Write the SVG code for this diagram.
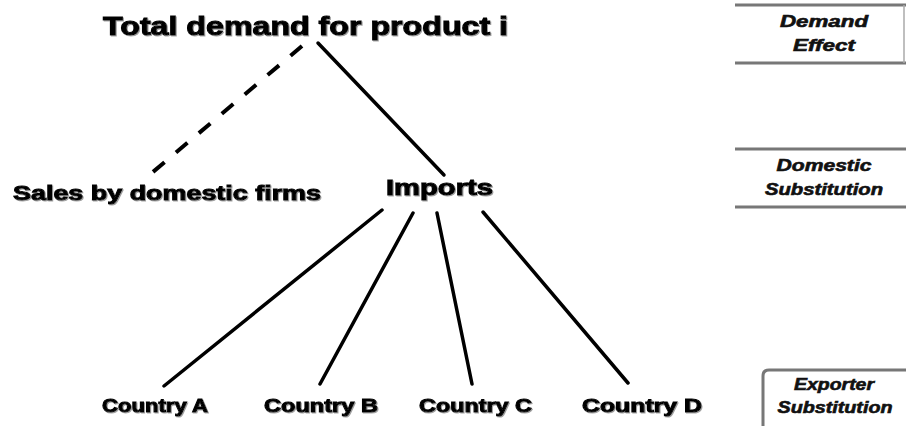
<svg xmlns="http://www.w3.org/2000/svg" width="906" height="426" viewBox="0 0 906 426">
  <defs>
    <filter id="sh" x="-5%" y="-20%" width="110%" height="140%">
      <feDropShadow dx="1" dy="1" stdDeviation="0.6" flood-color="#888" flood-opacity="0.8"/>
    </filter>
  </defs>
  <style>
    .t { font-family: "Liberation Sans", Arial, sans-serif; font-weight: bold; fill: #000; stroke: #000; stroke-width: 1; filter: url(#sh); }
    .lab { font-family: "Liberation Sans", Arial, sans-serif; font-weight: bold; font-style: italic; fill: #111; stroke: #111; stroke-width: 0.6; font-size: 16px; text-anchor: middle; }
    .edge { stroke: #000; stroke-width: 3.5; stroke-linecap: round; fill: none; }
    .dash { stroke: #000; stroke-width: 4; stroke-dasharray: 15 15; fill: none; }
    .bline { stroke: #777; stroke-width: 3; fill: none; }
    .bside { stroke: #aaa; stroke-width: 1.5; fill: none; }
  </style>
  <rect width="906" height="426" fill="#fff"/>

  <g id="connectors">
    <line class="dash" x1="302" y1="46" x2="147" y2="177"/>
    <line class="edge" x1="318" y1="43" x2="444" y2="175"/>
    <line class="edge" x1="382" y1="210" x2="164" y2="386"/>
    <line class="edge" x1="413" y1="213" x2="320" y2="384"/>
    <line class="edge" x1="437" y1="213" x2="472" y2="384"/>
    <line class="edge" x1="483" y1="212" x2="628" y2="383"/>
  </g>

  <g id="total">
    <text class="t" x="103" y="35" font-size="26" textLength="405" lengthAdjust="spacingAndGlyphs">Total demand  for product i</text>
  </g>
  <g id="sales">
    <text class="t" x="13" y="200" font-size="21" textLength="308" lengthAdjust="spacingAndGlyphs">Sales by domestic firms</text>
  </g>
  <g id="imports">
    <text class="t" x="386" y="195" font-size="22" textLength="107" lengthAdjust="spacingAndGlyphs">Imports</text>
  </g>
  <g id="countryA">
    <text class="t" x="102" y="412" font-size="19" textLength="106" lengthAdjust="spacingAndGlyphs">Country A</text>
  </g>
  <g id="countryB">
    <text class="t" x="264" y="412" font-size="19" textLength="114" lengthAdjust="spacingAndGlyphs">Country B</text>
  </g>
  <g id="countryC">
    <text class="t" x="419" y="412" font-size="19" textLength="113" lengthAdjust="spacingAndGlyphs">Country C</text>
  </g>
  <g id="countryD">
    <text class="t" x="582" y="412" font-size="19" textLength="120" lengthAdjust="spacingAndGlyphs">Country D</text>
  </g>

  <g id="demand-effect">
    <line class="bline" x1="735" y1="5" x2="906" y2="5"/>
    <line class="bline" x1="735" y1="63" x2="906" y2="63"/>
    <line class="bside" x1="904" y1="5" x2="904" y2="63"/>
    <text class="lab" x="824" y="27" textLength="88" lengthAdjust="spacingAndGlyphs">Demand</text>
    <text class="lab" x="824" y="51" textLength="62" lengthAdjust="spacingAndGlyphs">Effect</text>
  </g>
  <g id="domestic-substitution">
    <line class="bline" x1="735" y1="149" x2="906" y2="149"/>
    <line class="bline" x1="735" y1="207" x2="906" y2="207"/>
    <text class="lab" x="824" y="171" textLength="95" lengthAdjust="spacingAndGlyphs">Domestic</text>
    <text class="lab" x="824" y="195" textLength="118" lengthAdjust="spacingAndGlyphs">Substitution</text>
  </g>
  <g id="exporter-substitution">
    <path class="bline" d="M763 430 V376 Q763 370 769 370 H906" stroke="#888"/>
    <text class="lab" x="834" y="390" textLength="80" lengthAdjust="spacingAndGlyphs">Exporter</text>
    <text class="lab" x="835" y="413" textLength="115" lengthAdjust="spacingAndGlyphs">Substitution</text>
  </g>
</svg>
